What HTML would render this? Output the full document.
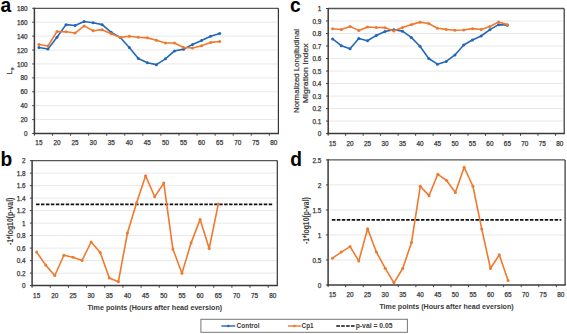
<!DOCTYPE html>
<html><head><meta charset="utf-8"><style>
html,body{margin:0;padding:0;background:#fff;width:567px;height:334px;overflow:hidden}
svg{display:block}
text{font-family:"Liberation Sans", sans-serif;fill:#3a3a3a}
.tk{font-size:6.4px;stroke:#3a3a3a;stroke-width:0.25px}
.pl{font-size:20px;font-weight:bold;fill:#000}
.yt{font-size:7.2px;stroke:#3a3a3a;stroke-width:0.2px}
.yt2{font-size:8.2px;font-weight:bold}
.xt{font-size:7.8px;font-weight:bold}
.lg{font-size:6.4px;font-weight:bold}
</style></head><body>
<svg width="567" height="334" viewBox="0 0 567 334">
<rect width="567" height="334" fill="#fff"/>
<line x1="35.40" y1="119.59" x2="277.40" y2="119.59" stroke="#e8e8e8" stroke-width="1"/>
<line x1="35.40" y1="105.68" x2="277.40" y2="105.68" stroke="#e8e8e8" stroke-width="1"/>
<line x1="35.40" y1="91.77" x2="277.40" y2="91.77" stroke="#e8e8e8" stroke-width="1"/>
<line x1="35.40" y1="77.86" x2="277.40" y2="77.86" stroke="#e8e8e8" stroke-width="1"/>
<line x1="35.40" y1="63.94" x2="277.40" y2="63.94" stroke="#e8e8e8" stroke-width="1"/>
<line x1="35.40" y1="50.03" x2="277.40" y2="50.03" stroke="#e8e8e8" stroke-width="1"/>
<line x1="35.40" y1="36.12" x2="277.40" y2="36.12" stroke="#e8e8e8" stroke-width="1"/>
<line x1="35.40" y1="22.21" x2="277.40" y2="22.21" stroke="#e8e8e8" stroke-width="1"/>
<line x1="32.20" y1="133.50" x2="34.40" y2="133.50" stroke="#444444" stroke-width="1"/>
<text x="27.60" y="136.10" text-anchor="end" class="tk">0</text>
<line x1="32.20" y1="119.59" x2="34.40" y2="119.59" stroke="#444444" stroke-width="1"/>
<text x="27.60" y="122.19" text-anchor="end" class="tk">20</text>
<line x1="32.20" y1="105.68" x2="34.40" y2="105.68" stroke="#444444" stroke-width="1"/>
<text x="27.60" y="108.28" text-anchor="end" class="tk">40</text>
<line x1="32.20" y1="91.77" x2="34.40" y2="91.77" stroke="#444444" stroke-width="1"/>
<text x="27.60" y="94.37" text-anchor="end" class="tk">60</text>
<line x1="32.20" y1="77.86" x2="34.40" y2="77.86" stroke="#444444" stroke-width="1"/>
<text x="27.60" y="80.46" text-anchor="end" class="tk">80</text>
<line x1="32.20" y1="63.94" x2="34.40" y2="63.94" stroke="#444444" stroke-width="1"/>
<text x="27.60" y="66.54" text-anchor="end" class="tk">100</text>
<line x1="32.20" y1="50.03" x2="34.40" y2="50.03" stroke="#444444" stroke-width="1"/>
<text x="27.60" y="52.63" text-anchor="end" class="tk">120</text>
<line x1="32.20" y1="36.12" x2="34.40" y2="36.12" stroke="#444444" stroke-width="1"/>
<text x="27.60" y="38.72" text-anchor="end" class="tk">140</text>
<line x1="32.20" y1="22.21" x2="34.40" y2="22.21" stroke="#444444" stroke-width="1"/>
<text x="27.60" y="24.81" text-anchor="end" class="tk">160</text>
<line x1="32.20" y1="8.30" x2="34.40" y2="8.30" stroke="#444444" stroke-width="1"/>
<text x="27.60" y="10.90" text-anchor="end" class="tk">180</text>
<line x1="34.40" y1="133.50" x2="34.40" y2="135.70" stroke="#444444" stroke-width="1"/>
<text x="38.92" y="144.90" text-anchor="middle" class="tk">15</text>
<line x1="52.47" y1="133.50" x2="52.47" y2="135.70" stroke="#444444" stroke-width="1"/>
<text x="56.99" y="144.90" text-anchor="middle" class="tk">20</text>
<line x1="70.55" y1="133.50" x2="70.55" y2="135.70" stroke="#444444" stroke-width="1"/>
<text x="75.07" y="144.90" text-anchor="middle" class="tk">25</text>
<line x1="88.62" y1="133.50" x2="88.62" y2="135.70" stroke="#444444" stroke-width="1"/>
<text x="93.14" y="144.90" text-anchor="middle" class="tk">30</text>
<line x1="106.70" y1="133.50" x2="106.70" y2="135.70" stroke="#444444" stroke-width="1"/>
<text x="111.21" y="144.90" text-anchor="middle" class="tk">35</text>
<line x1="124.77" y1="133.50" x2="124.77" y2="135.70" stroke="#444444" stroke-width="1"/>
<text x="129.29" y="144.90" text-anchor="middle" class="tk">40</text>
<line x1="142.84" y1="133.50" x2="142.84" y2="135.70" stroke="#444444" stroke-width="1"/>
<text x="147.36" y="144.90" text-anchor="middle" class="tk">45</text>
<line x1="160.92" y1="133.50" x2="160.92" y2="135.70" stroke="#444444" stroke-width="1"/>
<text x="165.44" y="144.90" text-anchor="middle" class="tk">50</text>
<line x1="178.99" y1="133.50" x2="178.99" y2="135.70" stroke="#444444" stroke-width="1"/>
<text x="183.51" y="144.90" text-anchor="middle" class="tk">55</text>
<line x1="197.07" y1="133.50" x2="197.07" y2="135.70" stroke="#444444" stroke-width="1"/>
<text x="201.59" y="144.90" text-anchor="middle" class="tk">60</text>
<line x1="215.14" y1="133.50" x2="215.14" y2="135.70" stroke="#444444" stroke-width="1"/>
<text x="219.66" y="144.90" text-anchor="middle" class="tk">65</text>
<line x1="233.21" y1="133.50" x2="233.21" y2="135.70" stroke="#444444" stroke-width="1"/>
<text x="237.73" y="144.90" text-anchor="middle" class="tk">70</text>
<line x1="251.29" y1="133.50" x2="251.29" y2="135.70" stroke="#444444" stroke-width="1"/>
<text x="255.81" y="144.90" text-anchor="middle" class="tk">75</text>
<line x1="269.36" y1="133.50" x2="269.36" y2="135.70" stroke="#444444" stroke-width="1"/>
<text x="273.88" y="144.90" text-anchor="middle" class="tk">80</text>
<line x1="34.40" y1="8.30" x2="278.40" y2="8.30" stroke="#555" stroke-width="1.3"/>
<line x1="278.40" y1="8.30" x2="278.40" y2="133.50" stroke="#333" stroke-width="1.2"/>
<line x1="34.40" y1="7.70" x2="34.40" y2="134.20" stroke="#3a3a3a" stroke-width="1.5"/>
<line x1="33.70" y1="133.50" x2="279.00" y2="133.50" stroke="#3a3a3a" stroke-width="1.5"/>
<polyline points="38.92,47.53 47.96,49.06 56.99,37.17 66.03,24.65 75.07,25.48 84.10,21.52 93.14,22.77 102.18,24.65 111.21,32.37 120.25,37.44 129.29,47.46 138.33,58.59 147.36,62.83 156.40,64.64 165.44,58.80 174.47,50.94 183.51,49.13 192.55,44.47 201.59,40.43 210.62,36.26 219.66,33.48" fill="none" stroke="#2368b8" stroke-width="1.6" stroke-linejoin="round"/>
<circle cx="38.92" cy="47.53" r="1.5" fill="#2368b8"/>
<circle cx="47.96" cy="49.06" r="1.5" fill="#2368b8"/>
<circle cx="56.99" cy="37.17" r="1.5" fill="#2368b8"/>
<circle cx="66.03" cy="24.65" r="1.5" fill="#2368b8"/>
<circle cx="75.07" cy="25.48" r="1.5" fill="#2368b8"/>
<circle cx="84.10" cy="21.52" r="1.5" fill="#2368b8"/>
<circle cx="93.14" cy="22.77" r="1.5" fill="#2368b8"/>
<circle cx="102.18" cy="24.65" r="1.5" fill="#2368b8"/>
<circle cx="111.21" cy="32.37" r="1.5" fill="#2368b8"/>
<circle cx="120.25" cy="37.44" r="1.5" fill="#2368b8"/>
<circle cx="129.29" cy="47.46" r="1.5" fill="#2368b8"/>
<circle cx="138.33" cy="58.59" r="1.5" fill="#2368b8"/>
<circle cx="147.36" cy="62.83" r="1.5" fill="#2368b8"/>
<circle cx="156.40" cy="64.64" r="1.5" fill="#2368b8"/>
<circle cx="165.44" cy="58.80" r="1.5" fill="#2368b8"/>
<circle cx="174.47" cy="50.94" r="1.5" fill="#2368b8"/>
<circle cx="183.51" cy="49.13" r="1.5" fill="#2368b8"/>
<circle cx="192.55" cy="44.47" r="1.5" fill="#2368b8"/>
<circle cx="201.59" cy="40.43" r="1.5" fill="#2368b8"/>
<circle cx="210.62" cy="36.26" r="1.5" fill="#2368b8"/>
<circle cx="219.66" cy="33.48" r="1.5" fill="#2368b8"/>
<polyline points="38.92,44.54 47.96,45.93 56.99,31.46 66.03,31.81 75.07,33.06 84.10,25.90 93.14,30.70 102.18,29.65 111.21,33.76 120.25,37.37 129.29,36.19 138.33,37.30 147.36,37.86 156.40,40.16 165.44,42.94 174.47,42.94 183.51,47.46 192.55,48.02 201.59,45.65 210.62,42.38 219.66,41.48" fill="none" stroke="#ef7a2f" stroke-width="1.6" stroke-linejoin="round"/>
<circle cx="38.92" cy="44.54" r="1.5" fill="#ef7a2f"/>
<circle cx="47.96" cy="45.93" r="1.5" fill="#ef7a2f"/>
<circle cx="56.99" cy="31.46" r="1.5" fill="#ef7a2f"/>
<circle cx="66.03" cy="31.81" r="1.5" fill="#ef7a2f"/>
<circle cx="75.07" cy="33.06" r="1.5" fill="#ef7a2f"/>
<circle cx="84.10" cy="25.90" r="1.5" fill="#ef7a2f"/>
<circle cx="93.14" cy="30.70" r="1.5" fill="#ef7a2f"/>
<circle cx="102.18" cy="29.65" r="1.5" fill="#ef7a2f"/>
<circle cx="111.21" cy="33.76" r="1.5" fill="#ef7a2f"/>
<circle cx="120.25" cy="37.37" r="1.5" fill="#ef7a2f"/>
<circle cx="129.29" cy="36.19" r="1.5" fill="#ef7a2f"/>
<circle cx="138.33" cy="37.30" r="1.5" fill="#ef7a2f"/>
<circle cx="147.36" cy="37.86" r="1.5" fill="#ef7a2f"/>
<circle cx="156.40" cy="40.16" r="1.5" fill="#ef7a2f"/>
<circle cx="165.44" cy="42.94" r="1.5" fill="#ef7a2f"/>
<circle cx="174.47" cy="42.94" r="1.5" fill="#ef7a2f"/>
<circle cx="183.51" cy="47.46" r="1.5" fill="#ef7a2f"/>
<circle cx="192.55" cy="48.02" r="1.5" fill="#ef7a2f"/>
<circle cx="201.59" cy="45.65" r="1.5" fill="#ef7a2f"/>
<circle cx="210.62" cy="42.38" r="1.5" fill="#ef7a2f"/>
<circle cx="219.66" cy="41.48" r="1.5" fill="#ef7a2f"/>
<line x1="329.20" y1="121.09" x2="563.20" y2="121.09" stroke="#e8e8e8" stroke-width="1"/>
<line x1="329.20" y1="108.58" x2="563.20" y2="108.58" stroke="#e8e8e8" stroke-width="1"/>
<line x1="329.20" y1="96.07" x2="563.20" y2="96.07" stroke="#e8e8e8" stroke-width="1"/>
<line x1="329.20" y1="83.56" x2="563.20" y2="83.56" stroke="#e8e8e8" stroke-width="1"/>
<line x1="329.20" y1="71.05" x2="563.20" y2="71.05" stroke="#e8e8e8" stroke-width="1"/>
<line x1="329.20" y1="58.54" x2="563.20" y2="58.54" stroke="#e8e8e8" stroke-width="1"/>
<line x1="329.20" y1="46.03" x2="563.20" y2="46.03" stroke="#e8e8e8" stroke-width="1"/>
<line x1="329.20" y1="33.52" x2="563.20" y2="33.52" stroke="#e8e8e8" stroke-width="1"/>
<line x1="329.20" y1="21.01" x2="563.20" y2="21.01" stroke="#e8e8e8" stroke-width="1"/>
<line x1="326.00" y1="133.60" x2="328.20" y2="133.60" stroke="#444444" stroke-width="1"/>
<text x="321.40" y="136.20" text-anchor="end" class="tk">0</text>
<line x1="326.00" y1="121.09" x2="328.20" y2="121.09" stroke="#444444" stroke-width="1"/>
<text x="321.40" y="123.69" text-anchor="end" class="tk">0.1</text>
<line x1="326.00" y1="108.58" x2="328.20" y2="108.58" stroke="#444444" stroke-width="1"/>
<text x="321.40" y="111.18" text-anchor="end" class="tk">0.2</text>
<line x1="326.00" y1="96.07" x2="328.20" y2="96.07" stroke="#444444" stroke-width="1"/>
<text x="321.40" y="98.67" text-anchor="end" class="tk">0.3</text>
<line x1="326.00" y1="83.56" x2="328.20" y2="83.56" stroke="#444444" stroke-width="1"/>
<text x="321.40" y="86.16" text-anchor="end" class="tk">0.4</text>
<line x1="326.00" y1="71.05" x2="328.20" y2="71.05" stroke="#444444" stroke-width="1"/>
<text x="321.40" y="73.65" text-anchor="end" class="tk">0.5</text>
<line x1="326.00" y1="58.54" x2="328.20" y2="58.54" stroke="#444444" stroke-width="1"/>
<text x="321.40" y="61.14" text-anchor="end" class="tk">0.6</text>
<line x1="326.00" y1="46.03" x2="328.20" y2="46.03" stroke="#444444" stroke-width="1"/>
<text x="321.40" y="48.63" text-anchor="end" class="tk">0.7</text>
<line x1="326.00" y1="33.52" x2="328.20" y2="33.52" stroke="#444444" stroke-width="1"/>
<text x="321.40" y="36.12" text-anchor="end" class="tk">0.8</text>
<line x1="326.00" y1="21.01" x2="328.20" y2="21.01" stroke="#444444" stroke-width="1"/>
<text x="321.40" y="23.61" text-anchor="end" class="tk">0.9</text>
<line x1="326.00" y1="8.50" x2="328.20" y2="8.50" stroke="#444444" stroke-width="1"/>
<text x="321.40" y="11.10" text-anchor="end" class="tk">1</text>
<line x1="328.20" y1="133.60" x2="328.20" y2="135.80" stroke="#444444" stroke-width="1"/>
<text x="332.57" y="145.50" text-anchor="middle" class="tk">15</text>
<line x1="345.68" y1="133.60" x2="345.68" y2="135.80" stroke="#444444" stroke-width="1"/>
<text x="350.05" y="145.50" text-anchor="middle" class="tk">20</text>
<line x1="363.16" y1="133.60" x2="363.16" y2="135.80" stroke="#444444" stroke-width="1"/>
<text x="367.53" y="145.50" text-anchor="middle" class="tk">25</text>
<line x1="380.64" y1="133.60" x2="380.64" y2="135.80" stroke="#444444" stroke-width="1"/>
<text x="385.01" y="145.50" text-anchor="middle" class="tk">30</text>
<line x1="398.13" y1="133.60" x2="398.13" y2="135.80" stroke="#444444" stroke-width="1"/>
<text x="402.50" y="145.50" text-anchor="middle" class="tk">35</text>
<line x1="415.61" y1="133.60" x2="415.61" y2="135.80" stroke="#444444" stroke-width="1"/>
<text x="419.98" y="145.50" text-anchor="middle" class="tk">40</text>
<line x1="433.09" y1="133.60" x2="433.09" y2="135.80" stroke="#444444" stroke-width="1"/>
<text x="437.46" y="145.50" text-anchor="middle" class="tk">45</text>
<line x1="450.57" y1="133.60" x2="450.57" y2="135.80" stroke="#444444" stroke-width="1"/>
<text x="454.94" y="145.50" text-anchor="middle" class="tk">50</text>
<line x1="468.05" y1="133.60" x2="468.05" y2="135.80" stroke="#444444" stroke-width="1"/>
<text x="472.42" y="145.50" text-anchor="middle" class="tk">55</text>
<line x1="485.53" y1="133.60" x2="485.53" y2="135.80" stroke="#444444" stroke-width="1"/>
<text x="489.90" y="145.50" text-anchor="middle" class="tk">60</text>
<line x1="503.01" y1="133.60" x2="503.01" y2="135.80" stroke="#444444" stroke-width="1"/>
<text x="507.39" y="145.50" text-anchor="middle" class="tk">65</text>
<line x1="520.50" y1="133.60" x2="520.50" y2="135.80" stroke="#444444" stroke-width="1"/>
<text x="524.87" y="145.50" text-anchor="middle" class="tk">70</text>
<line x1="537.98" y1="133.60" x2="537.98" y2="135.80" stroke="#444444" stroke-width="1"/>
<text x="542.35" y="145.50" text-anchor="middle" class="tk">75</text>
<line x1="555.46" y1="133.60" x2="555.46" y2="135.80" stroke="#444444" stroke-width="1"/>
<text x="559.83" y="145.50" text-anchor="middle" class="tk">80</text>
<line x1="328.20" y1="8.50" x2="564.20" y2="8.50" stroke="#555" stroke-width="1.3"/>
<line x1="564.20" y1="8.50" x2="564.20" y2="133.60" stroke="#333" stroke-width="1.2"/>
<line x1="328.20" y1="7.90" x2="328.20" y2="134.30" stroke="#3a3a3a" stroke-width="1.5"/>
<line x1="327.50" y1="133.60" x2="564.80" y2="133.60" stroke="#3a3a3a" stroke-width="1.5"/>
<polyline points="332.57,38.90 341.31,45.65 350.05,48.66 358.79,38.40 367.53,40.78 376.27,35.40 385.01,31.52 393.76,29.64 402.50,31.14 411.24,37.40 419.98,46.28 428.72,58.54 437.46,64.17 446.20,61.42 454.94,54.91 463.68,45.03 472.42,40.03 481.16,36.02 489.90,29.64 498.64,24.64 507.39,25.26" fill="none" stroke="#2368b8" stroke-width="1.6" stroke-linejoin="round"/>
<circle cx="332.57" cy="38.90" r="1.5" fill="#2368b8"/>
<circle cx="341.31" cy="45.65" r="1.5" fill="#2368b8"/>
<circle cx="350.05" cy="48.66" r="1.5" fill="#2368b8"/>
<circle cx="358.79" cy="38.40" r="1.5" fill="#2368b8"/>
<circle cx="367.53" cy="40.78" r="1.5" fill="#2368b8"/>
<circle cx="376.27" cy="35.40" r="1.5" fill="#2368b8"/>
<circle cx="385.01" cy="31.52" r="1.5" fill="#2368b8"/>
<circle cx="393.76" cy="29.64" r="1.5" fill="#2368b8"/>
<circle cx="402.50" cy="31.14" r="1.5" fill="#2368b8"/>
<circle cx="411.24" cy="37.40" r="1.5" fill="#2368b8"/>
<circle cx="419.98" cy="46.28" r="1.5" fill="#2368b8"/>
<circle cx="428.72" cy="58.54" r="1.5" fill="#2368b8"/>
<circle cx="437.46" cy="64.17" r="1.5" fill="#2368b8"/>
<circle cx="446.20" cy="61.42" r="1.5" fill="#2368b8"/>
<circle cx="454.94" cy="54.91" r="1.5" fill="#2368b8"/>
<circle cx="463.68" cy="45.03" r="1.5" fill="#2368b8"/>
<circle cx="472.42" cy="40.03" r="1.5" fill="#2368b8"/>
<circle cx="481.16" cy="36.02" r="1.5" fill="#2368b8"/>
<circle cx="489.90" cy="29.64" r="1.5" fill="#2368b8"/>
<circle cx="498.64" cy="24.64" r="1.5" fill="#2368b8"/>
<circle cx="507.39" cy="25.26" r="1.5" fill="#2368b8"/>
<polyline points="332.57,28.77 341.31,29.52 350.05,26.51 358.79,30.39 367.53,27.01 376.27,27.52 385.01,27.64 393.76,30.89 402.50,27.39 411.24,24.64 419.98,22.14 428.72,23.51 437.46,28.27 446.20,29.39 454.94,30.27 463.68,30.02 472.42,28.64 481.16,29.52 489.90,26.51 498.64,22.01 507.39,24.64" fill="none" stroke="#ef7a2f" stroke-width="1.6" stroke-linejoin="round"/>
<circle cx="332.57" cy="28.77" r="1.5" fill="#ef7a2f"/>
<circle cx="341.31" cy="29.52" r="1.5" fill="#ef7a2f"/>
<circle cx="350.05" cy="26.51" r="1.5" fill="#ef7a2f"/>
<circle cx="358.79" cy="30.39" r="1.5" fill="#ef7a2f"/>
<circle cx="367.53" cy="27.01" r="1.5" fill="#ef7a2f"/>
<circle cx="376.27" cy="27.52" r="1.5" fill="#ef7a2f"/>
<circle cx="385.01" cy="27.64" r="1.5" fill="#ef7a2f"/>
<circle cx="393.76" cy="30.89" r="1.5" fill="#ef7a2f"/>
<circle cx="402.50" cy="27.39" r="1.5" fill="#ef7a2f"/>
<circle cx="411.24" cy="24.64" r="1.5" fill="#ef7a2f"/>
<circle cx="419.98" cy="22.14" r="1.5" fill="#ef7a2f"/>
<circle cx="428.72" cy="23.51" r="1.5" fill="#ef7a2f"/>
<circle cx="437.46" cy="28.27" r="1.5" fill="#ef7a2f"/>
<circle cx="446.20" cy="29.39" r="1.5" fill="#ef7a2f"/>
<circle cx="454.94" cy="30.27" r="1.5" fill="#ef7a2f"/>
<circle cx="463.68" cy="30.02" r="1.5" fill="#ef7a2f"/>
<circle cx="472.42" cy="28.64" r="1.5" fill="#ef7a2f"/>
<circle cx="481.16" cy="29.52" r="1.5" fill="#ef7a2f"/>
<circle cx="489.90" cy="26.51" r="1.5" fill="#ef7a2f"/>
<circle cx="498.64" cy="22.01" r="1.5" fill="#ef7a2f"/>
<circle cx="507.39" cy="24.64" r="1.5" fill="#ef7a2f"/>
<line x1="33.10" y1="273.10" x2="276.30" y2="273.10" stroke="#e8e8e8" stroke-width="1"/>
<line x1="33.10" y1="260.60" x2="276.30" y2="260.60" stroke="#e8e8e8" stroke-width="1"/>
<line x1="33.10" y1="248.10" x2="276.30" y2="248.10" stroke="#e8e8e8" stroke-width="1"/>
<line x1="33.10" y1="235.60" x2="276.30" y2="235.60" stroke="#e8e8e8" stroke-width="1"/>
<line x1="33.10" y1="223.10" x2="276.30" y2="223.10" stroke="#e8e8e8" stroke-width="1"/>
<line x1="33.10" y1="210.60" x2="276.30" y2="210.60" stroke="#e8e8e8" stroke-width="1"/>
<line x1="33.10" y1="198.10" x2="276.30" y2="198.10" stroke="#e8e8e8" stroke-width="1"/>
<line x1="33.10" y1="185.60" x2="276.30" y2="185.60" stroke="#e8e8e8" stroke-width="1"/>
<line x1="33.10" y1="173.10" x2="276.30" y2="173.10" stroke="#e8e8e8" stroke-width="1"/>
<line x1="29.90" y1="285.60" x2="32.10" y2="285.60" stroke="#444444" stroke-width="1"/>
<text x="25.60" y="288.20" text-anchor="end" class="tk">0</text>
<line x1="29.90" y1="273.10" x2="32.10" y2="273.10" stroke="#444444" stroke-width="1"/>
<text x="25.60" y="275.70" text-anchor="end" class="tk">0.2</text>
<line x1="29.90" y1="260.60" x2="32.10" y2="260.60" stroke="#444444" stroke-width="1"/>
<text x="25.60" y="263.20" text-anchor="end" class="tk">0.4</text>
<line x1="29.90" y1="248.10" x2="32.10" y2="248.10" stroke="#444444" stroke-width="1"/>
<text x="25.60" y="250.70" text-anchor="end" class="tk">0.6</text>
<line x1="29.90" y1="235.60" x2="32.10" y2="235.60" stroke="#444444" stroke-width="1"/>
<text x="25.60" y="238.20" text-anchor="end" class="tk">0.8</text>
<line x1="29.90" y1="223.10" x2="32.10" y2="223.10" stroke="#444444" stroke-width="1"/>
<text x="25.60" y="225.70" text-anchor="end" class="tk">1</text>
<line x1="29.90" y1="210.60" x2="32.10" y2="210.60" stroke="#444444" stroke-width="1"/>
<text x="25.60" y="213.20" text-anchor="end" class="tk">1.2</text>
<line x1="29.90" y1="198.10" x2="32.10" y2="198.10" stroke="#444444" stroke-width="1"/>
<text x="25.60" y="200.70" text-anchor="end" class="tk">1.4</text>
<line x1="29.90" y1="185.60" x2="32.10" y2="185.60" stroke="#444444" stroke-width="1"/>
<text x="25.60" y="188.20" text-anchor="end" class="tk">1.6</text>
<line x1="29.90" y1="173.10" x2="32.10" y2="173.10" stroke="#444444" stroke-width="1"/>
<text x="25.60" y="175.70" text-anchor="end" class="tk">1.8</text>
<line x1="29.90" y1="160.60" x2="32.10" y2="160.60" stroke="#444444" stroke-width="1"/>
<text x="25.60" y="163.20" text-anchor="end" class="tk">2</text>
<line x1="32.10" y1="285.60" x2="32.10" y2="287.80" stroke="#444444" stroke-width="1"/>
<text x="36.64" y="297.70" text-anchor="middle" class="tk">15</text>
<line x1="50.26" y1="285.60" x2="50.26" y2="287.80" stroke="#444444" stroke-width="1"/>
<text x="54.80" y="297.70" text-anchor="middle" class="tk">20</text>
<line x1="68.43" y1="285.60" x2="68.43" y2="287.80" stroke="#444444" stroke-width="1"/>
<text x="72.97" y="297.70" text-anchor="middle" class="tk">25</text>
<line x1="86.59" y1="285.60" x2="86.59" y2="287.80" stroke="#444444" stroke-width="1"/>
<text x="91.13" y="297.70" text-anchor="middle" class="tk">30</text>
<line x1="104.75" y1="285.60" x2="104.75" y2="287.80" stroke="#444444" stroke-width="1"/>
<text x="109.29" y="297.70" text-anchor="middle" class="tk">35</text>
<line x1="122.91" y1="285.60" x2="122.91" y2="287.80" stroke="#444444" stroke-width="1"/>
<text x="127.46" y="297.70" text-anchor="middle" class="tk">40</text>
<line x1="141.08" y1="285.60" x2="141.08" y2="287.80" stroke="#444444" stroke-width="1"/>
<text x="145.62" y="297.70" text-anchor="middle" class="tk">45</text>
<line x1="159.24" y1="285.60" x2="159.24" y2="287.80" stroke="#444444" stroke-width="1"/>
<text x="163.78" y="297.70" text-anchor="middle" class="tk">50</text>
<line x1="177.40" y1="285.60" x2="177.40" y2="287.80" stroke="#444444" stroke-width="1"/>
<text x="181.94" y="297.70" text-anchor="middle" class="tk">55</text>
<line x1="195.57" y1="285.60" x2="195.57" y2="287.80" stroke="#444444" stroke-width="1"/>
<text x="200.11" y="297.70" text-anchor="middle" class="tk">60</text>
<line x1="213.73" y1="285.60" x2="213.73" y2="287.80" stroke="#444444" stroke-width="1"/>
<text x="218.27" y="297.70" text-anchor="middle" class="tk">65</text>
<line x1="231.89" y1="285.60" x2="231.89" y2="287.80" stroke="#444444" stroke-width="1"/>
<text x="236.43" y="297.70" text-anchor="middle" class="tk">70</text>
<line x1="250.06" y1="285.60" x2="250.06" y2="287.80" stroke="#444444" stroke-width="1"/>
<text x="254.60" y="297.70" text-anchor="middle" class="tk">75</text>
<line x1="268.22" y1="285.60" x2="268.22" y2="287.80" stroke="#444444" stroke-width="1"/>
<text x="272.76" y="297.70" text-anchor="middle" class="tk">80</text>
<line x1="32.10" y1="160.60" x2="277.30" y2="160.60" stroke="#555" stroke-width="1.3"/>
<line x1="277.30" y1="160.60" x2="277.30" y2="285.60" stroke="#333" stroke-width="1.2"/>
<line x1="32.10" y1="160.00" x2="32.10" y2="286.30" stroke="#3a3a3a" stroke-width="1.5"/>
<line x1="31.40" y1="285.60" x2="277.90" y2="285.60" stroke="#3a3a3a" stroke-width="1.5"/>
<line x1="36.04" y1="204.29" x2="273.36" y2="204.29" stroke="#111" stroke-width="1.7" stroke-dasharray="3.5 1.45"/>
<polyline points="36.64,252.10 45.72,265.10 54.80,275.48 63.89,255.23 72.97,257.29 82.05,260.48 91.13,241.98 100.21,252.41 109.29,277.98 118.37,281.73 127.46,232.98 136.54,203.10 145.62,175.72 154.70,196.73 163.78,183.10 172.86,248.98 181.94,273.23 191.03,243.10 200.11,219.41 209.19,248.48 218.27,204.04" fill="none" stroke="#ef7a2f" stroke-width="1.6" stroke-linejoin="round"/>
<circle cx="36.64" cy="252.10" r="1.5" fill="#ef7a2f"/>
<circle cx="45.72" cy="265.10" r="1.5" fill="#ef7a2f"/>
<circle cx="54.80" cy="275.48" r="1.5" fill="#ef7a2f"/>
<circle cx="63.89" cy="255.23" r="1.5" fill="#ef7a2f"/>
<circle cx="72.97" cy="257.29" r="1.5" fill="#ef7a2f"/>
<circle cx="82.05" cy="260.48" r="1.5" fill="#ef7a2f"/>
<circle cx="91.13" cy="241.98" r="1.5" fill="#ef7a2f"/>
<circle cx="100.21" cy="252.41" r="1.5" fill="#ef7a2f"/>
<circle cx="109.29" cy="277.98" r="1.5" fill="#ef7a2f"/>
<circle cx="118.37" cy="281.73" r="1.5" fill="#ef7a2f"/>
<circle cx="127.46" cy="232.98" r="1.5" fill="#ef7a2f"/>
<circle cx="136.54" cy="203.10" r="1.5" fill="#ef7a2f"/>
<circle cx="145.62" cy="175.72" r="1.5" fill="#ef7a2f"/>
<circle cx="154.70" cy="196.73" r="1.5" fill="#ef7a2f"/>
<circle cx="163.78" cy="183.10" r="1.5" fill="#ef7a2f"/>
<circle cx="172.86" cy="248.98" r="1.5" fill="#ef7a2f"/>
<circle cx="181.94" cy="273.23" r="1.5" fill="#ef7a2f"/>
<circle cx="191.03" cy="243.10" r="1.5" fill="#ef7a2f"/>
<circle cx="200.11" cy="219.41" r="1.5" fill="#ef7a2f"/>
<circle cx="209.19" cy="248.48" r="1.5" fill="#ef7a2f"/>
<circle cx="218.27" cy="204.04" r="1.5" fill="#ef7a2f"/>
<line x1="329.10" y1="259.98" x2="564.10" y2="259.98" stroke="#e8e8e8" stroke-width="1"/>
<line x1="329.10" y1="234.96" x2="564.10" y2="234.96" stroke="#e8e8e8" stroke-width="1"/>
<line x1="329.10" y1="209.94" x2="564.10" y2="209.94" stroke="#e8e8e8" stroke-width="1"/>
<line x1="329.10" y1="184.92" x2="564.10" y2="184.92" stroke="#e8e8e8" stroke-width="1"/>
<line x1="325.90" y1="285.00" x2="328.10" y2="285.00" stroke="#444444" stroke-width="1"/>
<text x="321.40" y="287.60" text-anchor="end" class="tk">0</text>
<line x1="325.90" y1="259.98" x2="328.10" y2="259.98" stroke="#444444" stroke-width="1"/>
<text x="321.40" y="262.58" text-anchor="end" class="tk">0.5</text>
<line x1="325.90" y1="234.96" x2="328.10" y2="234.96" stroke="#444444" stroke-width="1"/>
<text x="321.40" y="237.56" text-anchor="end" class="tk">1</text>
<line x1="325.90" y1="209.94" x2="328.10" y2="209.94" stroke="#444444" stroke-width="1"/>
<text x="321.40" y="212.54" text-anchor="end" class="tk">1.5</text>
<line x1="325.90" y1="184.92" x2="328.10" y2="184.92" stroke="#444444" stroke-width="1"/>
<text x="321.40" y="187.52" text-anchor="end" class="tk">2</text>
<line x1="325.90" y1="159.90" x2="328.10" y2="159.90" stroke="#444444" stroke-width="1"/>
<text x="321.40" y="162.50" text-anchor="end" class="tk">2.5</text>
<line x1="328.10" y1="285.00" x2="328.10" y2="287.20" stroke="#444444" stroke-width="1"/>
<text x="332.49" y="297.10" text-anchor="middle" class="tk">15</text>
<line x1="345.66" y1="285.00" x2="345.66" y2="287.20" stroke="#444444" stroke-width="1"/>
<text x="350.04" y="297.10" text-anchor="middle" class="tk">20</text>
<line x1="363.21" y1="285.00" x2="363.21" y2="287.20" stroke="#444444" stroke-width="1"/>
<text x="367.60" y="297.10" text-anchor="middle" class="tk">25</text>
<line x1="380.77" y1="285.00" x2="380.77" y2="287.20" stroke="#444444" stroke-width="1"/>
<text x="385.16" y="297.10" text-anchor="middle" class="tk">30</text>
<line x1="398.32" y1="285.00" x2="398.32" y2="287.20" stroke="#444444" stroke-width="1"/>
<text x="402.71" y="297.10" text-anchor="middle" class="tk">35</text>
<line x1="415.88" y1="285.00" x2="415.88" y2="287.20" stroke="#444444" stroke-width="1"/>
<text x="420.27" y="297.10" text-anchor="middle" class="tk">40</text>
<line x1="433.43" y1="285.00" x2="433.43" y2="287.20" stroke="#444444" stroke-width="1"/>
<text x="437.82" y="297.10" text-anchor="middle" class="tk">45</text>
<line x1="450.99" y1="285.00" x2="450.99" y2="287.20" stroke="#444444" stroke-width="1"/>
<text x="455.38" y="297.10" text-anchor="middle" class="tk">50</text>
<line x1="468.54" y1="285.00" x2="468.54" y2="287.20" stroke="#444444" stroke-width="1"/>
<text x="472.93" y="297.10" text-anchor="middle" class="tk">55</text>
<line x1="486.10" y1="285.00" x2="486.10" y2="287.20" stroke="#444444" stroke-width="1"/>
<text x="490.49" y="297.10" text-anchor="middle" class="tk">60</text>
<line x1="503.66" y1="285.00" x2="503.66" y2="287.20" stroke="#444444" stroke-width="1"/>
<text x="508.04" y="297.10" text-anchor="middle" class="tk">65</text>
<line x1="521.21" y1="285.00" x2="521.21" y2="287.20" stroke="#444444" stroke-width="1"/>
<text x="525.60" y="297.10" text-anchor="middle" class="tk">70</text>
<line x1="538.77" y1="285.00" x2="538.77" y2="287.20" stroke="#444444" stroke-width="1"/>
<text x="543.16" y="297.10" text-anchor="middle" class="tk">75</text>
<line x1="556.32" y1="285.00" x2="556.32" y2="287.20" stroke="#444444" stroke-width="1"/>
<text x="560.71" y="297.10" text-anchor="middle" class="tk">80</text>
<line x1="328.10" y1="159.90" x2="565.10" y2="159.90" stroke="#555" stroke-width="1.3"/>
<line x1="565.10" y1="159.90" x2="565.10" y2="285.00" stroke="#333" stroke-width="1.2"/>
<line x1="328.10" y1="159.30" x2="328.10" y2="285.70" stroke="#3a3a3a" stroke-width="1.5"/>
<line x1="327.40" y1="285.00" x2="565.70" y2="285.00" stroke="#3a3a3a" stroke-width="1.5"/>
<line x1="331.89" y1="219.90" x2="561.31" y2="219.90" stroke="#111" stroke-width="1.7" stroke-dasharray="3.5 1.45"/>
<polyline points="332.49,258.13 341.27,252.07 350.04,246.62 358.82,260.88 367.60,228.81 376.38,252.07 385.16,268.19 393.93,282.85 402.71,268.54 411.49,242.62 420.27,186.27 429.04,195.63 437.82,174.31 446.60,180.52 455.38,192.48 464.16,167.31 472.93,186.27 481.71,228.91 490.49,268.54 499.27,254.83 508.04,280.60" fill="none" stroke="#ef7a2f" stroke-width="1.6" stroke-linejoin="round"/>
<circle cx="332.49" cy="258.13" r="1.5" fill="#ef7a2f"/>
<circle cx="341.27" cy="252.07" r="1.5" fill="#ef7a2f"/>
<circle cx="350.04" cy="246.62" r="1.5" fill="#ef7a2f"/>
<circle cx="358.82" cy="260.88" r="1.5" fill="#ef7a2f"/>
<circle cx="367.60" cy="228.81" r="1.5" fill="#ef7a2f"/>
<circle cx="376.38" cy="252.07" r="1.5" fill="#ef7a2f"/>
<circle cx="385.16" cy="268.19" r="1.5" fill="#ef7a2f"/>
<circle cx="393.93" cy="282.85" r="1.5" fill="#ef7a2f"/>
<circle cx="402.71" cy="268.54" r="1.5" fill="#ef7a2f"/>
<circle cx="411.49" cy="242.62" r="1.5" fill="#ef7a2f"/>
<circle cx="420.27" cy="186.27" r="1.5" fill="#ef7a2f"/>
<circle cx="429.04" cy="195.63" r="1.5" fill="#ef7a2f"/>
<circle cx="437.82" cy="174.31" r="1.5" fill="#ef7a2f"/>
<circle cx="446.60" cy="180.52" r="1.5" fill="#ef7a2f"/>
<circle cx="455.38" cy="192.48" r="1.5" fill="#ef7a2f"/>
<circle cx="464.16" cy="167.31" r="1.5" fill="#ef7a2f"/>
<circle cx="472.93" cy="186.27" r="1.5" fill="#ef7a2f"/>
<circle cx="481.71" cy="228.91" r="1.5" fill="#ef7a2f"/>
<circle cx="490.49" cy="268.54" r="1.5" fill="#ef7a2f"/>
<circle cx="499.27" cy="254.83" r="1.5" fill="#ef7a2f"/>
<circle cx="508.04" cy="280.60" r="1.5" fill="#ef7a2f"/>
<text transform="translate(0.4,11.8) scale(0.96,1)" class="pl">a</text>
<text transform="translate(289.9,11.8) scale(0.96,1)" class="pl">c</text>
<text transform="translate(0.6,165.9) scale(0.96,1)" class="pl">b</text>
<text transform="translate(290.3,165.9) scale(0.96,1)" class="pl">d</text>
<text transform="translate(11.7,74.2) rotate(-90)" class="yt">L<tspan font-size="5" dx="0" dy="2.3">e</tspan></text>
<text transform="translate(299.0,113) rotate(-90)" textLength="84" lengthAdjust="spacingAndGlyphs" class="yt">Normalized Longitudinal</text>
<text transform="translate(308.2,103.2) rotate(-90)" textLength="59.9" lengthAdjust="spacingAndGlyphs" class="yt">Migration Index</text>
<text transform="translate(13.4,245) rotate(-90)" textLength="47.4" lengthAdjust="spacingAndGlyphs" class="yt2">-1*log10(p-val)</text>
<text transform="translate(309.4,244) rotate(-90)" textLength="46.8" lengthAdjust="spacingAndGlyphs" class="yt2">-1*log10(p-val)</text>
<text x="87.4" y="309.5" textLength="134.8" lengthAdjust="spacingAndGlyphs" class="xt">Time points (Hours after head eversion)</text>
<text x="379.4" y="308.7" textLength="134.3" lengthAdjust="spacingAndGlyphs" class="xt">Time points (Hours after head eversion)</text>
<rect x="200.9" y="319.3" width="206.5" height="13.0" fill="#fff" stroke="#777" stroke-width="1"/>
<line x1="221.4" y1="326.0" x2="235.2" y2="326.0" stroke="#2368b8" stroke-width="1.4"/>
<circle cx="228.3" cy="326.0" r="1.3" fill="#2368b8"/>
<text x="236.6" y="328.0" textLength="23.0" lengthAdjust="spacingAndGlyphs" class="lg">Control</text>
<line x1="287.9" y1="326.0" x2="301.2" y2="326.0" stroke="#ef7a2f" stroke-width="1.4"/>
<circle cx="294.5" cy="326.0" r="1.3" fill="#ef7a2f"/>
<text x="301.6" y="328.0" textLength="12.0" lengthAdjust="spacingAndGlyphs" class="lg">Cp1</text>
<line x1="336.3" y1="326.0" x2="354.6" y2="326.0" stroke="#111" stroke-width="1.6" stroke-dasharray="3.6 1.3"/>
<text x="355.7" y="328.0" textLength="36.9" lengthAdjust="spacingAndGlyphs" class="lg">p-val = 0.05</text>
</svg>
</body></html>
